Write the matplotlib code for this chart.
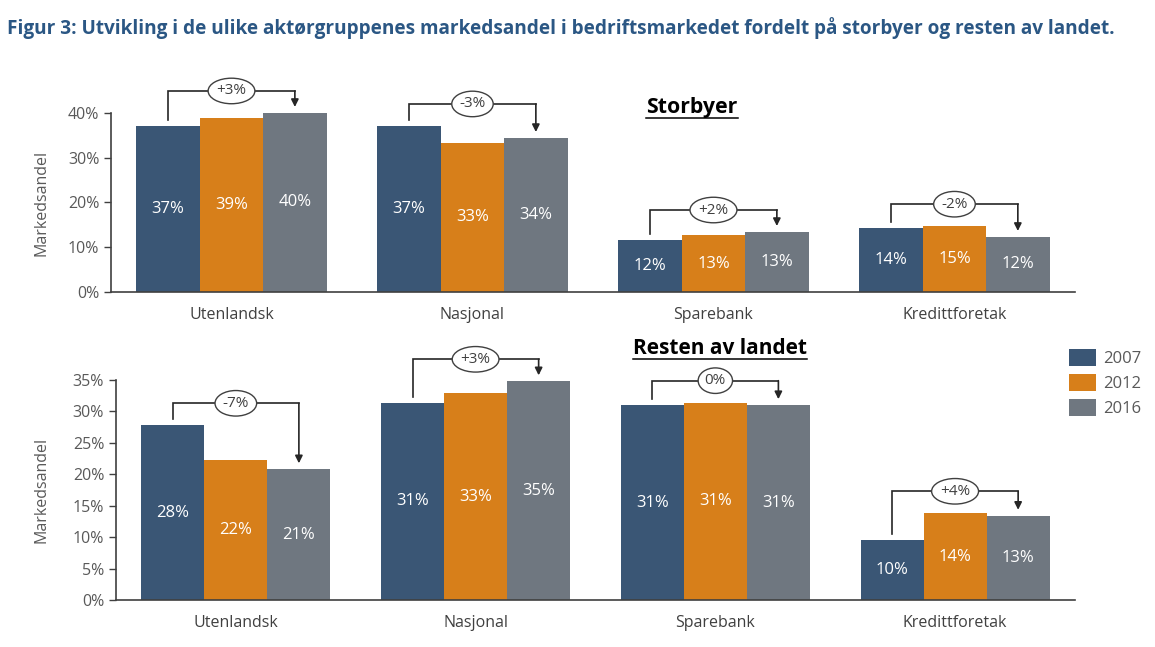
import numpy as np
import matplotlib.pyplot as plt
from matplotlib.lines import Line2D

plt.rcParams['font.family'] = ['Open Sans', 'DejaVu Sans']

# Markedsandel (%) per aktørgruppe, lest av figuren
categories = ["Utenlandsk", "Nasjonal", "Sparebank", "Kredittforetak"]
years = ["2007", "2012", "2016"]

storbyer_2007 = [37.1, 37.1, 11.6, 14.4]
storbyer_2012 = [38.9, 33.3, 12.7, 14.7]
storbyer_2016 = [40.0, 34.4, 13.4, 12.3]

resten_2007 = [27.8, 31.4, 31.0, 9.6]
resten_2012 = [22.3, 32.9, 31.4, 13.8]
resten_2016 = [20.8, 34.8, 31.0, 13.4]

colors = ["#3A5675", "#D77F1A", "#6F7780"]
dark = "#262626"
grey_txt = "#595959"

fig = plt.figure(figsize=(11.55, 6.47), dpi=100)
ax_top = fig.add_axes([0.0961, 0.5487, 0.8346, 0.2767])
ax_bot = fig.add_axes([0.1004, 0.0726, 0.8303, 0.3400])


def draw_panel(ax, series, ymax, step, ylabel_x):
    x = np.arange(len(categories))
    w = 0.263
    for i, vals in enumerate(series):
        pos = x + (i - 1) * w
        ax.bar(pos, vals, w, color=colors[i], label=years[i])
        for p, v in zip(pos, vals):
            ax.text(p, v / 2, f"{round(v)}%", ha="center", va="center",
                    color="white", fontsize=12)

    ax.set_xlim(-0.5, 3.5)
    ax.set_ylim(0, ymax)
    ticks = np.arange(0, ymax + 0.01, step)
    ax.set_yticks(ticks)
    ax.set_yticklabels([f"{t:.0f}%" for t in ticks])
    ax.set_xticks(x)
    ax.set_xticklabels(categories)
    ax.tick_params(axis="x", length=0, pad=11, labelsize=11.5, labelcolor="#404040")
    ax.tick_params(axis="y", length=5, width=1, color="#404040",
                   labelsize=11.5, labelcolor=grey_txt)
    for s in ("top", "right"):
        ax.spines[s].set_visible(False)
    for s in ("left", "bottom"):
        ax.spines[s].set_color("#404040")
        ax.spines[s].set_linewidth(1.2)
    ax.set_ylabel("Markedsandel", fontsize=11.5, color=grey_txt)
    ax.yaxis.set_label_coords(ylabel_x, 0.5)

    # endring 2007 -> 2016
    px_per_unit = ax.bbox.height / ymax
    gap = 6 / px_per_unit
    for k in range(len(categories)):
        v0, v1, v2 = series[0][k], series[1][k], series[2][k]
        level = max(v0, v1, v2) + 22 / px_per_unit
        x0, x2 = x[k] - w, x[k] + w
        ax.plot([x0, x0, x2], [v0 + gap, level, level], color=dark, lw=1.2,
                clip_on=False, solid_joinstyle="miter")
        ax.annotate("", xy=(x2, v2 + gap), xytext=(x2, level),
                    arrowprops=dict(arrowstyle="-|>", color=dark, lw=1.2,
                                    mutation_scale=11, shrinkA=0, shrinkB=0),
                    annotation_clip=False)
        d = round(v2 - v0)
        lab = "0%" if d == 0 else f"{d:+d}%"
        ax.text(x[k], level, lab, ha="center", va="center", fontsize=11,
                color="#404040", zorder=5,
                bbox=dict(boxstyle="ellipse,pad=0.1", fc="white",
                          ec="#404040", lw=1))


draw_panel(ax_top, [storbyer_2007, storbyer_2012, storbyer_2016], 40, 10, -0.064)
draw_panel(ax_bot, [resten_2007, resten_2012, resten_2016], 35, 5, -0.069)

fig.text(0.006, 1 - 28 / 647,
         "Figur 3: Utvikling i de ulike aktørgruppenes markedsandel i bedriftsmarkedet "
         "fordelt på storbyer og resten av landet.",
         ha="left", va="center", fontsize=13.7, fontweight="bold", color="#2B5784")

t1 = fig.text(692 / 1155, 1 - 108 / 647, "Storbyer", ha="center", va="center",
              fontsize=15.3, fontweight="bold", color="black")
t2 = fig.text(720 / 1155, 1 - 349 / 647, "Resten av landet", ha="center", va="center",
              fontsize=15, fontweight="bold", color="black")

fig.canvas.draw()
renderer = fig.canvas.get_renderer()
for t in (t1, t2):
    bb = t.get_window_extent(renderer).transformed(fig.transFigure.inverted())
    fig.add_artist(Line2D([bb.x0, bb.x1], [bb.y0 + 0.001, bb.y0 + 0.001],
                          transform=fig.transFigure, color="black", lw=1.1))

handles, labels = ax_bot.get_legend_handles_labels()
fig.legend(handles, labels, loc="upper left",
           bbox_to_anchor=(1054 / 1155, 1 - 334 / 647), frameon=False,
           fontsize=12, labelcolor=grey_txt, handlelength=1.6, handleheight=1.2,
           handletextpad=0.45, labelspacing=0.4)

fig.savefig("out.png", dpi=100)
